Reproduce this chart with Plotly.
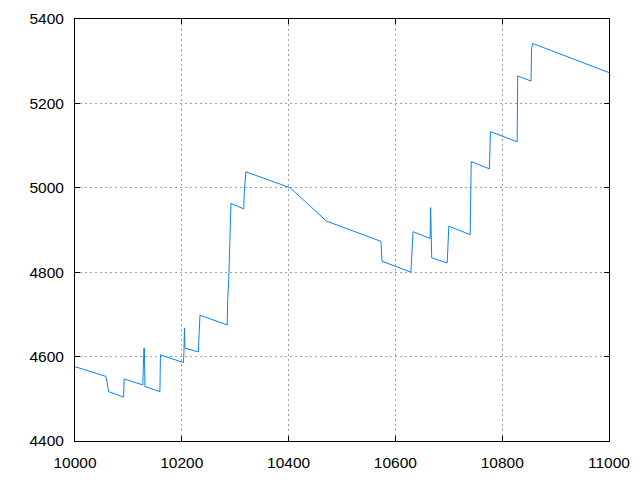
import plotly.graph_objects as go

x_vals = [10000, 10058, 10063, 10091, 10092, 10127, 10129, 10130, 10131, 10159, 10160,
          10203, 10204, 10205, 10206, 10231, 10234, 10285, 10286, 10288, 10290, 10292,
          10316, 10317, 10320, 10403, 10471, 10573, 10575, 10629, 10633, 10665, 10666,
          10667, 10668, 10697, 10700, 10740, 10741, 10742, 10776, 10777, 10778, 10828,
          10829, 10854, 10855, 10857, 11000]
y_vals = [4576, 4553, 4517, 4504, 4547, 4533, 4620, 4620, 4529, 4517, 4604,
          4586, 4610, 4668, 4620, 4611, 4698, 4675, 4735, 4786, 4873, 4963,
          4950, 4988, 5038, 5000, 4921, 4873, 4826, 4800, 4896, 4880, 4953,
          4885, 4834, 4822, 4909, 4889, 4960, 5062, 5045, 5091, 5133, 5109,
          5265, 5253, 5329, 5342, 5273]

x_ticks = [10000, 10200, 10400, 10600, 10800, 11000]
y_ticks = [4400, 4600, 4800, 5000, 5200, 5400]

fig = go.Figure()
fig.add_trace(go.Scatter(x=x_vals, y=y_vals, mode="lines",
                         line=dict(color="#0a80ff", width=1), showlegend=False))

axis_common = dict(
    showline=True, linecolor="black", linewidth=1, mirror="ticks",
    ticks="inside", ticklen=5, tickcolor="black", automargin=False,
    showgrid=True, gridcolor="#a0a0a0", griddash="2px,3px", gridwidth=1,
    zeroline=False, tickfont=dict(family="Liberation Sans", size=15.5, color="black"),
)
fig.update_xaxes(range=[10000, 11000], tickvals=x_ticks,
                 ticktext=[str(v) for v in x_ticks], ticklabelstandoff=7, **axis_common)
fig.update_yaxes(range=[4400, 5400], tickvals=y_ticks,
                 ticktext=[str(v) for v in y_ticks], ticklabelstandoff=7, **axis_common)

fig.update_layout(
    width=640, height=480,
    margin=dict(l=67, r=39, t=11, b=47),
    plot_bgcolor="white", paper_bgcolor="white",
)
fig.write_html("out.html")
